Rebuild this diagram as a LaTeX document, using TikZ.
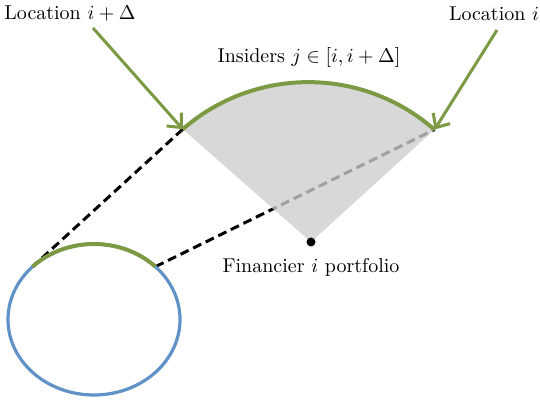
\documentclass[tikz,border=0pt]{standalone}
\usetikzlibrary{arrows.meta,calc}
\definecolor{lgreen}{RGB}{124,154,68}
\definecolor{lblue}{RGB}{96,146,200}
\definecolor{sectgray}{RGB}{216,216,216}
\definecolor{dashgray}{RGB}{160,160,160}
\tikzset{
  greenline/.style={draw=lgreen, line width=2pt},
  arrowline/.style={draw=lgreen, line width=1.5pt, -{Straight Barb[length=5.5pt,width=10pt,line width=1.5pt]}},
  dashline/.style={line width=1.5pt, dash pattern=on 4.5pt off 2.5pt},
  lbl/.style={inner sep=0pt, font=\normalsize}
}
\begin{document}
\begin{tikzpicture}[x=0.5pt,y=0.5pt]
\useasboundingbox (0,0) rectangle (540,400);
% key points
\coordinate (O) at (311,158);
\coordinate (A) at (182.8,270.8);
\coordinate (B) at (434.6,270.5);
\coordinate (E) at (94,80.5);
\coordinate (P) at ($(E)+(135.6:86 and 75.5)$);
\coordinate (Q) at ($(E)+(44.4:86 and 75.5)$);
\coordinate (S1) at (93,372);
\coordinate (S2) at (497,370);
% dashed lines
\draw[dashline] (A) -- (P);
\draw[dashline] (Q) -- (B);
% sector (covers the part of the line inside it)
\fill[sectgray] (O) -- (A) arc[start angle=131.1, end angle=48.7, radius=191] -- cycle;
\begin{scope}
  \clip (O) -- (A) arc[start angle=131.1, end angle=48.7, radius=191] -- cycle;
  \draw[dashline, dashgray] (Q) -- (B);
\end{scope}
% arcs
\draw[greenline] (A) arc[start angle=131.1, end angle=48.7, radius=191];
\draw[lblue, line width=1.6pt] (E) ellipse[x radius=86, y radius=75.5];
\draw[greenline] (P) arc[start angle=135.6, end angle=44.4, x radius=86, y radius=75.5];
% arrows
\draw[arrowline] (S1) -- (A);
\draw[arrowline] (S2) -- (B);
% apex dot
\fill (O) circle (4.5);
% labels
\node[lbl] (l1) at (70,386) {Location $i+\Delta$};
\node[lbl] (l2) at (494,386) {Location $i$};
\node[lbl] (l3) at (309,342) {Insiders $j\in[i,i+\Delta]$};
\node[lbl] (l4) at (311,133) {Financier $i$ portfolio};
\end{tikzpicture}
\end{document}
